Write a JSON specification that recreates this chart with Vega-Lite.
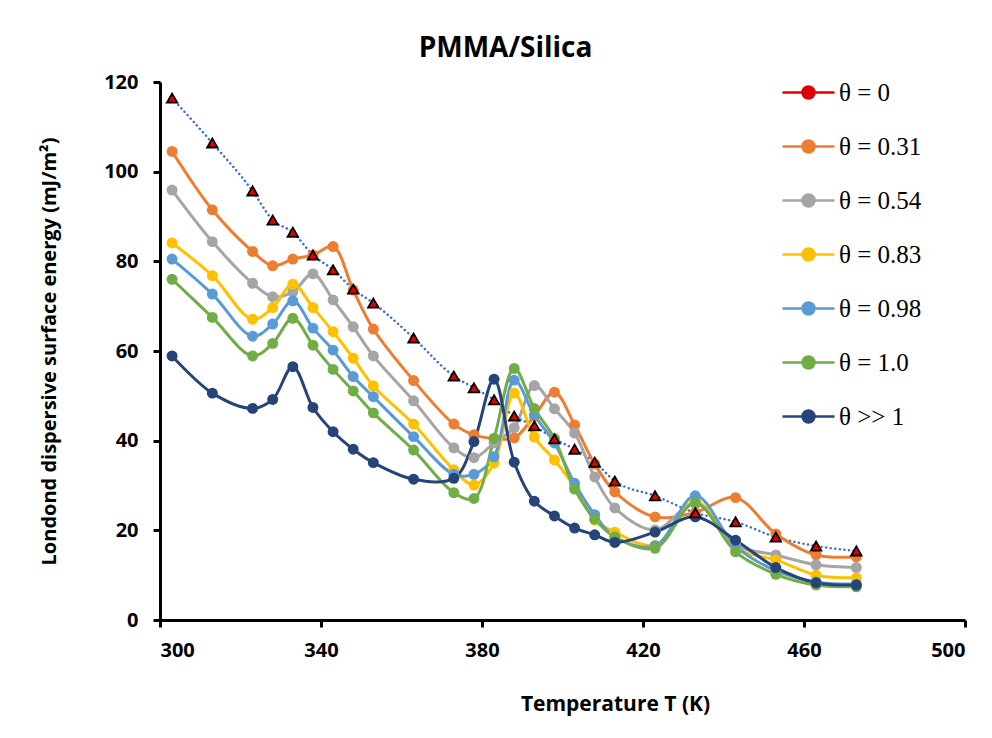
{
  "$schema": "https://vega.github.io/schema/vega-lite/v6.json",
  "width": 805,
  "height": 538,
  "autosize": {"type": "none"},
  "padding": {"left": 160, "top": 82, "right": 27, "bottom": 118},
  "background": "white",
  "title": {"text": "PMMA/Silica", "font": "Open Sans", "fontSize": 28, "fontWeight": "bold", "color": "black", "anchor": "middle", "dx": -57, "offset": 9},
  "config": {
    "view": {"stroke": null},
    "axis": {"grid": false, "domainColor": "black", "domainWidth": 3, "tickColor": "black", "tickWidth": 3, "tickSize": 7, "labelFont": "Open Sans", "labelFontWeight": "bold", "labelFontSize": 20, "labelColor": "black", "titleFont": "Open Sans", "titleFontWeight": "bold", "titleColor": "black"}
  },
  "data": {"values": [
    {"T":303,"s":"θ = 0","E":116.4},{"T":313,"s":"θ = 0","E":106.4},{"T":323,"s":"θ = 0","E":95.7},{"T":328,"s":"θ = 0","E":89.2},{"T":333,"s":"θ = 0","E":86.5},{"T":338,"s":"θ = 0","E":81.4},{"T":343,"s":"θ = 0","E":78.1},{"T":348,"s":"θ = 0","E":73.8},{"T":353,"s":"θ = 0","E":70.7},{"T":363,"s":"θ = 0","E":62.9},{"T":373,"s":"θ = 0","E":54.4},{"T":378,"s":"θ = 0","E":51.8},{"T":383,"s":"θ = 0","E":49.1},{"T":388,"s":"θ = 0","E":45.5},{"T":393,"s":"θ = 0","E":43.3},{"T":398,"s":"θ = 0","E":40.4},{"T":403,"s":"θ = 0","E":38.1},{"T":408,"s":"θ = 0","E":35.2},{"T":413,"s":"θ = 0","E":31.0},{"T":423,"s":"θ = 0","E":27.7},{"T":433,"s":"θ = 0","E":23.9},{"T":443,"s":"θ = 0","E":21.9},{"T":453,"s":"θ = 0","E":18.5},{"T":463,"s":"θ = 0","E":16.5},{"T":473,"s":"θ = 0","E":15.4},
    {"T":303,"s":"θ = 0.31","E":104.5},{"T":313,"s":"θ = 0.31","E":91.5},{"T":323,"s":"θ = 0.31","E":82.2},{"T":328,"s":"θ = 0.31","E":79.0},{"T":333,"s":"θ = 0.31","E":80.5},{"T":338,"s":"θ = 0.31","E":81.4},{"T":343,"s":"θ = 0.31","E":83.3},{"T":348,"s":"θ = 0.31","E":73.6},{"T":353,"s":"θ = 0.31","E":64.9},{"T":363,"s":"θ = 0.31","E":53.4},{"T":373,"s":"θ = 0.31","E":43.7},{"T":378,"s":"θ = 0.31","E":41.3},{"T":383,"s":"θ = 0.31","E":40.5},{"T":388,"s":"θ = 0.31","E":40.6},{"T":393,"s":"θ = 0.31","E":45.5},{"T":398,"s":"θ = 0.31","E":50.8},{"T":403,"s":"θ = 0.31","E":43.5},{"T":408,"s":"θ = 0.31","E":34.8},{"T":413,"s":"θ = 0.31","E":28.6},{"T":423,"s":"θ = 0.31","E":23.0},{"T":433,"s":"θ = 0.31","E":24.0},{"T":443,"s":"θ = 0.31","E":27.3},{"T":453,"s":"θ = 0.31","E":19.2},{"T":463,"s":"θ = 0.31","E":14.5},{"T":473,"s":"θ = 0.31","E":14.1},
    {"T":303,"s":"θ = 0.54","E":95.9},{"T":313,"s":"θ = 0.54","E":84.4},{"T":323,"s":"θ = 0.54","E":75.1},{"T":328,"s":"θ = 0.54","E":72.1},{"T":333,"s":"θ = 0.54","E":73.2},{"T":338,"s":"θ = 0.54","E":77.2},{"T":343,"s":"θ = 0.54","E":71.4},{"T":348,"s":"θ = 0.54","E":65.4},{"T":353,"s":"θ = 0.54","E":58.9},{"T":363,"s":"θ = 0.54","E":48.9},{"T":373,"s":"θ = 0.54","E":38.4},{"T":378,"s":"θ = 0.54","E":36.2},{"T":383,"s":"θ = 0.54","E":39.5},{"T":388,"s":"θ = 0.54","E":42.9},{"T":393,"s":"θ = 0.54","E":52.3},{"T":398,"s":"θ = 0.54","E":47.1},{"T":403,"s":"θ = 0.54","E":41.7},{"T":408,"s":"θ = 0.54","E":31.9},{"T":413,"s":"θ = 0.54","E":25.0},{"T":423,"s":"θ = 0.54","E":20.1},{"T":433,"s":"θ = 0.54","E":26.0},{"T":443,"s":"θ = 0.54","E":16.7},{"T":453,"s":"θ = 0.54","E":14.5},{"T":463,"s":"θ = 0.54","E":12.3},{"T":473,"s":"θ = 0.54","E":11.7},
    {"T":303,"s":"θ = 0.83","E":84.1},{"T":313,"s":"θ = 0.83","E":76.8},{"T":323,"s":"θ = 0.83","E":67.1},{"T":328,"s":"θ = 0.83","E":69.7},{"T":333,"s":"θ = 0.83","E":74.9},{"T":338,"s":"θ = 0.83","E":69.7},{"T":343,"s":"θ = 0.83","E":64.3},{"T":348,"s":"θ = 0.83","E":58.4},{"T":353,"s":"θ = 0.83","E":52.2},{"T":363,"s":"θ = 0.83","E":43.7},{"T":373,"s":"θ = 0.83","E":33.5},{"T":378,"s":"θ = 0.83","E":30.1},{"T":383,"s":"θ = 0.83","E":35.0},{"T":388,"s":"θ = 0.83","E":50.6},{"T":393,"s":"θ = 0.83","E":40.8},{"T":398,"s":"θ = 0.83","E":35.7},{"T":403,"s":"θ = 0.83","E":29.7},{"T":408,"s":"θ = 0.83","E":22.3},{"T":413,"s":"θ = 0.83","E":19.6},{"T":423,"s":"θ = 0.83","E":16.7},{"T":433,"s":"θ = 0.83","E":26.5},{"T":443,"s":"θ = 0.83","E":16.0},{"T":453,"s":"θ = 0.83","E":13.4},{"T":463,"s":"θ = 0.83","E":10.0},{"T":473,"s":"θ = 0.83","E":9.4},
    {"T":303,"s":"θ = 0.98","E":80.5},{"T":313,"s":"θ = 0.98","E":72.7},{"T":323,"s":"θ = 0.98","E":63.3},{"T":328,"s":"θ = 0.98","E":66.0},{"T":333,"s":"θ = 0.98","E":71.2},{"T":338,"s":"θ = 0.98","E":65.1},{"T":343,"s":"θ = 0.98","E":60.2},{"T":348,"s":"θ = 0.98","E":54.3},{"T":353,"s":"θ = 0.98","E":49.8},{"T":363,"s":"θ = 0.98","E":40.9},{"T":373,"s":"θ = 0.98","E":32.5},{"T":378,"s":"θ = 0.98","E":32.5},{"T":383,"s":"θ = 0.98","E":36.4},{"T":388,"s":"θ = 0.98","E":53.5},{"T":393,"s":"θ = 0.98","E":45.7},{"T":398,"s":"θ = 0.98","E":39.5},{"T":403,"s":"θ = 0.98","E":30.5},{"T":408,"s":"θ = 0.98","E":23.5},{"T":413,"s":"θ = 0.98","E":18.5},{"T":423,"s":"θ = 0.98","E":16.5},{"T":433,"s":"θ = 0.98","E":27.7},{"T":443,"s":"θ = 0.98","E":16.5},{"T":453,"s":"θ = 0.98","E":11.0},{"T":463,"s":"θ = 0.98","E":8.5},{"T":473,"s":"θ = 0.98","E":8.0},
    {"T":303,"s":"θ = 1.0","E":76.0},{"T":313,"s":"θ = 1.0","E":67.5},{"T":323,"s":"θ = 1.0","E":58.9},{"T":328,"s":"θ = 1.0","E":61.7},{"T":333,"s":"θ = 1.0","E":67.3},{"T":338,"s":"θ = 1.0","E":61.3},{"T":343,"s":"θ = 1.0","E":55.9},{"T":348,"s":"θ = 1.0","E":51.1},{"T":353,"s":"θ = 1.0","E":46.2},{"T":363,"s":"θ = 1.0","E":37.9},{"T":373,"s":"θ = 1.0","E":28.4},{"T":378,"s":"θ = 1.0","E":27.1},{"T":383,"s":"θ = 1.0","E":40.5},{"T":388,"s":"θ = 1.0","E":56.1},{"T":393,"s":"θ = 1.0","E":47.2},{"T":398,"s":"θ = 1.0","E":40.5},{"T":403,"s":"θ = 1.0","E":29.2},{"T":408,"s":"θ = 1.0","E":22.5},{"T":413,"s":"θ = 1.0","E":18.5},{"T":423,"s":"θ = 1.0","E":16.0},{"T":433,"s":"θ = 1.0","E":26.1},{"T":443,"s":"θ = 1.0","E":15.2},{"T":453,"s":"θ = 1.0","E":10.2},{"T":463,"s":"θ = 1.0","E":7.8},{"T":473,"s":"θ = 1.0","E":7.4},
    {"T":303,"s":"θ >> 1","E":58.9},{"T":313,"s":"θ >> 1","E":50.6},{"T":323,"s":"θ >> 1","E":47.2},{"T":328,"s":"θ >> 1","E":49.2},{"T":333,"s":"θ >> 1","E":56.5},{"T":338,"s":"θ >> 1","E":47.4},{"T":343,"s":"θ >> 1","E":42.0},{"T":348,"s":"θ >> 1","E":38.1},{"T":353,"s":"θ >> 1","E":35.1},{"T":363,"s":"θ >> 1","E":31.4},{"T":373,"s":"θ >> 1","E":31.6},{"T":378,"s":"θ >> 1","E":39.8},{"T":383,"s":"θ >> 1","E":53.7},{"T":388,"s":"θ >> 1","E":35.2},{"T":393,"s":"θ >> 1","E":26.5},{"T":398,"s":"θ >> 1","E":23.2},{"T":403,"s":"θ >> 1","E":20.5},{"T":408,"s":"θ >> 1","E":19.0},{"T":413,"s":"θ >> 1","E":17.3},{"T":423,"s":"θ >> 1","E":19.6},{"T":433,"s":"θ >> 1","E":23.0},{"T":443,"s":"θ >> 1","E":17.8},{"T":453,"s":"θ >> 1","E":11.7},{"T":463,"s":"θ >> 1","E":8.3},{"T":473,"s":"θ >> 1","E":7.8}
  ]},
  "encoding": {
    "x": {"field": "T", "type": "quantitative", "scale": {"domain": [300, 500], "nice": false}, "axis": {"values": [300, 340, 380, 420, 460, 500], "title": "Temperature T (K)", "titleFontSize": 21, "labelPadding": 13, "titlePadding": 33, "titleX": 455}},
    "y": {"field": "E", "type": "quantitative", "scale": {"domain": [0, 120], "nice": false}, "axis": {"values": [0, 20, 40, 60, 80, 100, 120], "title": "Londond dispersive surface energy (mJ/m²)", "titleFontSize": 20, "labelPadding": 15, "titlePadding": 44}}
  },
  "layer": [
    {
      "transform": [{"filter": "datum.s === 'θ = 0'"}],
      "mark": {"type": "line", "color": "#3F6FD0", "strokeWidth": 2.5, "strokeDash": [0.1, 4.5], "strokeCap": "round", "interpolate": "monotone"}
    },
    {
      "transform": [{"filter": "datum.s !== 'θ = 0'"}],
      "mark": {"type": "line", "strokeWidth": 3, "interpolate": "catmull-rom"},
      "encoding": {
        "color": {
          "field": "s", "type": "nominal",
          "scale": {"domain": ["θ = 0", "θ = 0.31", "θ = 0.54", "θ = 0.83", "θ = 0.98", "θ = 1.0", "θ >> 1"], "range": ["#e00000", "#ED7D31", "#A5A5A5", "#FFC000", "#5B9BD5", "#70AD47", "#264478"]},
          "legend": {
            "orient": "none", "legendX": 636, "legendY": -2, "title": null, "padding": 0,
            "symbolSize": 400, "symbolStrokeWidth": 2.5,
            "symbolType": "M-2.6,0H-0.6M0.6,0H2.6M-0.6,0A0.6,0.6 0 1,1 0.6,0A0.6,0.6 0 1,1 -0.6,0",
            "labelFont": "Liberation Serif", "labelFontSize": 25, "labelColor": "black", "labelOffset": 18, "rowPadding": 28
          }
        }
      }
    },
    {
      "transform": [{"filter": "datum.s !== 'θ = 0'"}],
      "mark": {"type": "point", "filled": true, "opacity": 1, "size": 120, "shape": "circle"},
      "encoding": {
        "color": {
          "field": "s", "type": "nominal",
          "scale": {"domain": ["θ = 0", "θ = 0.31", "θ = 0.54", "θ = 0.83", "θ = 0.98", "θ = 1.0", "θ >> 1"], "range": ["#e00000", "#ED7D31", "#A5A5A5", "#FFC000", "#5B9BD5", "#70AD47", "#264478"]}
        }
      }
    },
    {
      "transform": [{"filter": "datum.s === 'θ = 0'"}],
      "mark": {"type": "point", "shape": "triangle-up", "filled": true, "fill": "#e00000", "stroke": "black", "strokeWidth": 1.8, "size": 110, "opacity": 1}
    }
  ]
}
